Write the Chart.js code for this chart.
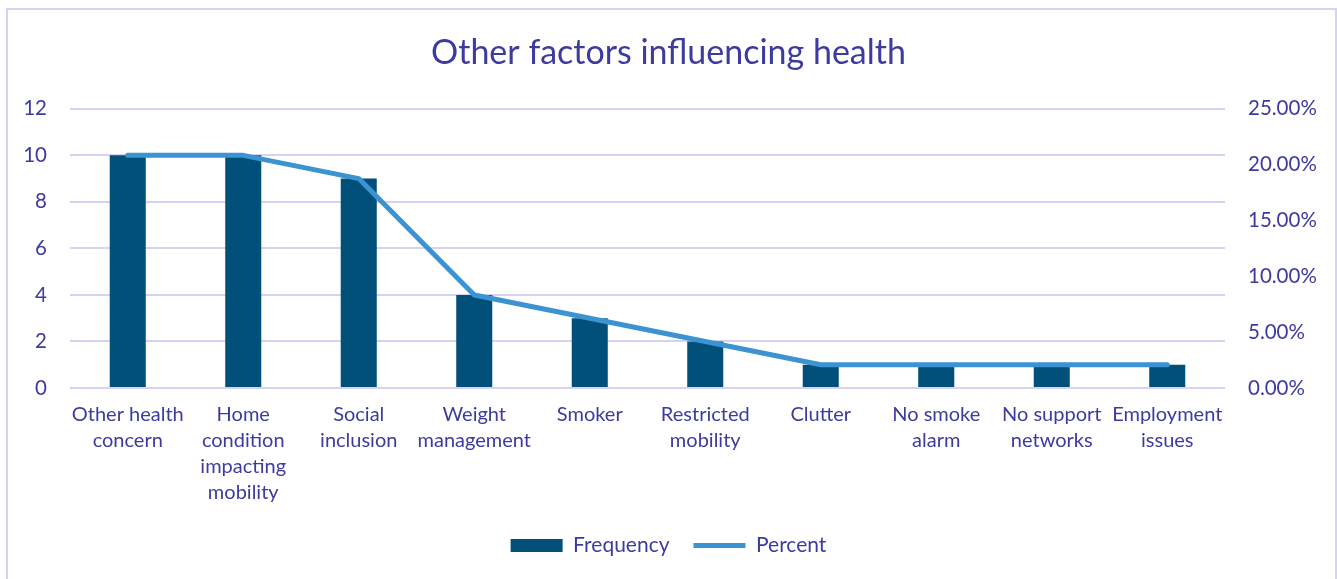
<!DOCTYPE html>
<html>
<head>
<meta charset="utf-8">
<script src="https://cdn.jsdelivr.net/npm/chart.js@4"></script>
<style>
  html, body { margin: 0; padding: 0; background: #fff; overflow: hidden; }
  #frame {
    position: absolute; left: 6px; top: 8px; width: 1327px; height: 600px;
    border: 2px solid #d6d2f2; pointer-events: none;
  }
  canvas { position: absolute; left: 0; top: 0; }
</style>
</head>
<body>
<canvas id="pareto-chart" width="1337" height="579"></canvas>
<div id="frame"></div>
<script>
// categories (multi-line labels as shown under the bars)
const categories = [
  ["Other health", "concern"],
  ["Home", "condition", "impacting", "mobility"],
  ["Social", "inclusion"],
  ["Weight", "management"],
  "Smoker",
  ["Restricted", "mobility"],
  "Clutter",
  ["No smoke", "alarm"],
  ["No support", "networks"],
  ["Employment", "issues"]
];
const frequency = [10, 10, 9, 4, 3, 2, 1, 1, 1, 1];
// percent as fractions of the right axis
const percent = [0.2083, 0.2083, 0.1875, 0.0833, 0.0625, 0.0417, 0.0208, 0.0208, 0.0208, 0.0208];

const textColor = "#3d3b9e";
const gridColor = "#d6d2f2";
const barColor = "#00507a";
const lineColor = "#3b93d1";
const fontFamily = "Lato, 'Open Sans', sans-serif";

const canvas = document.getElementById("pareto-chart");
const ctx = canvas.getContext("2d");

var chart = new Chart(ctx, {
  data: {
    labels: categories,
    datasets: [
      {
        type: "line",
        label: "Percent",
        data: percent,
        yAxisID: "y1",
        borderColor: lineColor,
        backgroundColor: lineColor,
        borderWidth: 5,
        borderCapStyle: "round",
        borderJoinStyle: "round",
        pointRadius: 0,
        pointStyle: "line",
        tension: 0,
        order: 0
      },
      {
        type: "bar",
        label: "Frequency",
        data: frequency,
        yAxisID: "y",
        backgroundColor: barColor,
        borderWidth: 0,
        pointStyle: "rect",
        categoryPercentage: 1,
        barPercentage: 0.312,
        order: 1
      }
    ]
  },
  options: {
    responsive: false,
    animation: false,
    layout: { padding: { left: 0, right: 0, top: 0, bottom: 13 } },
    plugins: {
      title: {
        display: true,
        text: "Other factors influencing health",
        color: textColor,
        font: { family: fontFamily, size: 34, weight: "normal" },
        padding: { top: 33, bottom: 35 }
      },
      legend: {
        position: "bottom",
        reverse: true,
        labels: {
          usePointStyle: true,
          pointStyleWidth: 52,
          boxHeight: 13,
          padding: 24,
          color: textColor,
          font: { family: fontFamily, size: 21 }
        }
      },
      tooltip: { enabled: false }
    },
    scales: {
      x: {
        grid: { display: false },
        border: { display: false },
        ticks: {
          color: textColor,
          font: { family: fontFamily, size: 20, lineHeight: 1.3 },
          autoSkip: false,
          maxRotation: 0,
          minRotation: 0,
          padding: 6
        },
        afterFit: function(scale) { scale.height = 123; }
      },
      y: {
        position: "left",
        min: 0,
        max: 12,
        ticks: {
          stepSize: 2,
          color: textColor,
          font: { family: fontFamily, size: 20.5 },
          padding: 23
        },
        grid: { color: gridColor, lineWidth: 2, drawTicks: false },
        border: { display: false },
        afterFit: function(scale) { scale.width = 70; }
      },
      y1: {
        position: "right",
        min: 0,
        max: 0.25,
        ticks: {
          stepSize: 0.05,
          color: textColor,
          font: { family: fontFamily, size: 20.5 },
          padding: 23,
          callback: function(v) { return (v * 100).toFixed(2) + "%"; }
        },
        grid: { display: false, drawTicks: false },
        border: { display: false },
        afterFit: function(scale) { scale.width = 112; }
      }
    }
  }
});
</script>
</body>
</html>
